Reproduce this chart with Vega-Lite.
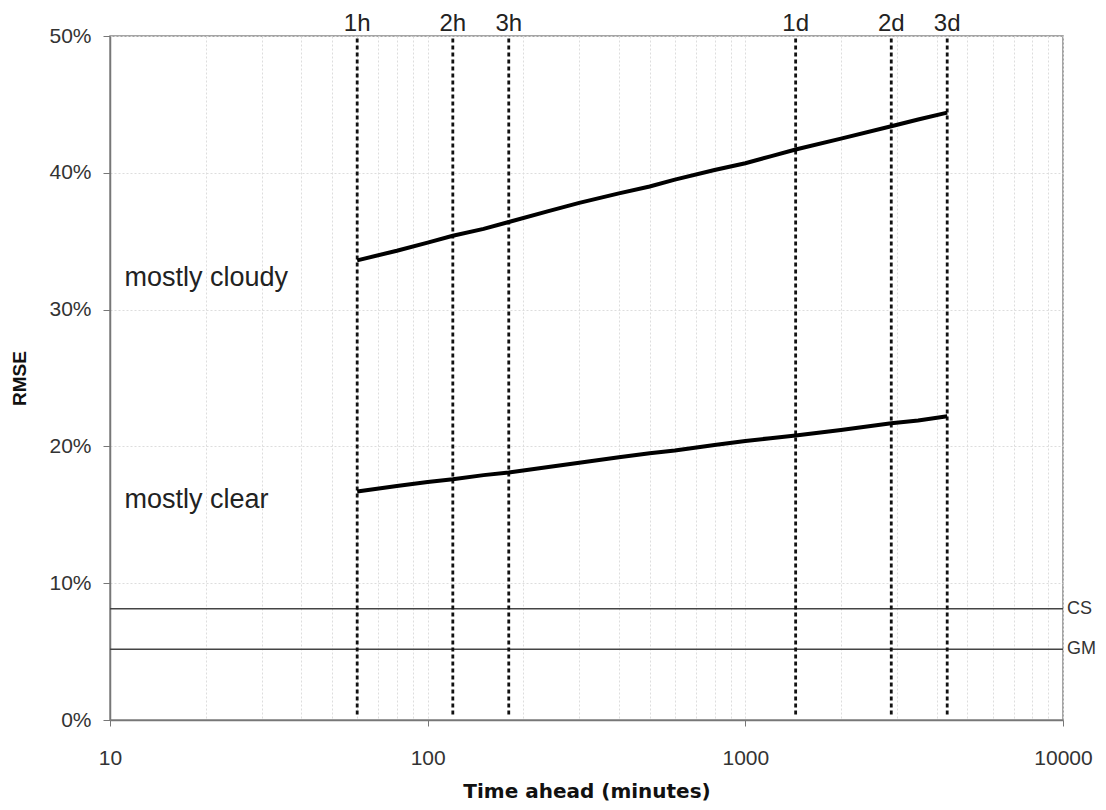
{
  "$schema": "https://vega.github.io/schema/vega-lite/v6.json",
  "autosize": "none",
  "width": 953,
  "height": 684,
  "padding": {"left": 110, "top": 36, "right": 43, "bottom": 90},
  "background": "white",
  "config": {
    "font": "Liberation Sans",
    "view": {"stroke": "#888888", "strokeWidth": 1.5}
  },
  "datasets": {
    "series": [
      {"minutes": 60, "rmse": 0.336, "series": "mostly cloudy"},
      {"minutes": 80, "rmse": 0.343, "series": "mostly cloudy"},
      {"minutes": 100, "rmse": 0.349, "series": "mostly cloudy"},
      {"minutes": 120, "rmse": 0.354, "series": "mostly cloudy"},
      {"minutes": 150, "rmse": 0.359, "series": "mostly cloudy"},
      {"minutes": 180, "rmse": 0.364, "series": "mostly cloudy"},
      {"minutes": 240, "rmse": 0.372, "series": "mostly cloudy"},
      {"minutes": 300, "rmse": 0.378, "series": "mostly cloudy"},
      {"minutes": 400, "rmse": 0.385, "series": "mostly cloudy"},
      {"minutes": 500, "rmse": 0.390, "series": "mostly cloudy"},
      {"minutes": 600, "rmse": 0.395, "series": "mostly cloudy"},
      {"minutes": 800, "rmse": 0.402, "series": "mostly cloudy"},
      {"minutes": 1000, "rmse": 0.407, "series": "mostly cloudy"},
      {"minutes": 1200, "rmse": 0.412, "series": "mostly cloudy"},
      {"minutes": 1440, "rmse": 0.417, "series": "mostly cloudy"},
      {"minutes": 2000, "rmse": 0.425, "series": "mostly cloudy"},
      {"minutes": 2880, "rmse": 0.434, "series": "mostly cloudy"},
      {"minutes": 3500, "rmse": 0.439, "series": "mostly cloudy"},
      {"minutes": 4320, "rmse": 0.444, "series": "mostly cloudy"},
      {"minutes": 60, "rmse": 0.167, "series": "mostly clear"},
      {"minutes": 80, "rmse": 0.171, "series": "mostly clear"},
      {"minutes": 100, "rmse": 0.174, "series": "mostly clear"},
      {"minutes": 120, "rmse": 0.176, "series": "mostly clear"},
      {"minutes": 150, "rmse": 0.179, "series": "mostly clear"},
      {"minutes": 180, "rmse": 0.181, "series": "mostly clear"},
      {"minutes": 240, "rmse": 0.185, "series": "mostly clear"},
      {"minutes": 300, "rmse": 0.188, "series": "mostly clear"},
      {"minutes": 400, "rmse": 0.192, "series": "mostly clear"},
      {"minutes": 500, "rmse": 0.195, "series": "mostly clear"},
      {"minutes": 600, "rmse": 0.197, "series": "mostly clear"},
      {"minutes": 800, "rmse": 0.201, "series": "mostly clear"},
      {"minutes": 1000, "rmse": 0.204, "series": "mostly clear"},
      {"minutes": 1200, "rmse": 0.206, "series": "mostly clear"},
      {"minutes": 1440, "rmse": 0.208, "series": "mostly clear"},
      {"minutes": 2000, "rmse": 0.212, "series": "mostly clear"},
      {"minutes": 2880, "rmse": 0.217, "series": "mostly clear"},
      {"minutes": 3500, "rmse": 0.219, "series": "mostly clear"},
      {"minutes": 4320, "rmse": 0.222, "series": "mostly clear"}
    ],
    "markers": [
      {"minutes": 60, "label": "1h", "lo": 0.004, "hi": 0.5},
      {"minutes": 120, "label": "2h", "lo": 0.004, "hi": 0.5},
      {"minutes": 180, "label": "3h", "lo": 0.004, "hi": 0.5},
      {"minutes": 1440, "label": "1d", "lo": 0.004, "hi": 0.5},
      {"minutes": 2880, "label": "2d", "lo": 0.004, "hi": 0.5},
      {"minutes": 4320, "label": "3d", "lo": 0.004, "hi": 0.5}
    ],
    "refs": [
      {"label": "CS", "rmse": 0.0814, "x0": 10, "x1": 10000},
      {"label": "GM", "rmse": 0.0517, "x0": 10, "x1": 10000}
    ],
    "seriesLabels": [
      {"label": "mostly cloudy", "minutes": 11.1, "rmse": 0.323},
      {"label": "mostly clear", "minutes": 11.1, "rmse": 0.161}
    ]
  },
  "layer": [
    {
      "data": {"name": "refs"},
      "mark": {"type": "rule", "color": "#444444", "strokeWidth": 1.5},
      "encoding": {
        "x": {
          "field": "x0", "type": "quantitative",
          "scale": {"type": "log", "domain": [10, 10000], "nice": false},
          "axis": {
            "values": [10, 20, 30, 40, 50, 60, 70, 80, 90, 100, 200, 300, 400, 500, 600, 700, 800, 900, 1000, 2000, 3000, 4000, 5000, 6000, 7000, 8000, 9000, 10000],
            "labelExpr": "indexof(['10','100','1000','10000'], datum.label) >= 0 ? datum.label : ''",
            "format": "d",
            "title": "Time ahead (minutes)",
            "titleFont": "DejaVu Sans",
            "titleFontSize": 20,
            "titleFontWeight": "bold",
            "titleColor": "#111111",
            "titlePadding": 13,
            "labelFontSize": 21,
            "labelColor": "#333333",
            "labelPadding": 21,
            "labelFlush": false,
            "labelOverlap": false,
            "grid": true,
            "gridColor": "#dddddd",
            "gridDash": [2, 2],
            "gridWidth": 1,
            "domainColor": "#777777",
            "domainWidth": 1.5,
            "tickColor": "#777777",
            "tickSize": 6,
            "tickOpacity": {"condition": {"test": "indexof([10,100,1000,10000], datum.value) >= 0", "value": 1}, "value": 0}
          }
        },
        "x2": {"field": "x1"},
        "y": {
          "field": "rmse", "type": "quantitative",
          "scale": {"domain": [0, 0.5], "nice": false},
          "axis": {
            "values": [0, 0.1, 0.2, 0.3, 0.4, 0.5],
            "format": ".0%",
            "title": "RMSE",
            "titleFontSize": 19,
            "titleFontWeight": "bold",
            "titleColor": "#111111",
            "titlePadding": 19,
            "labelFontSize": 21,
            "labelColor": "#333333",
            "labelPadding": 12,
            "grid": true,
            "gridColor": "#dddddd",
            "gridDash": [2, 2],
            "domainColor": "#777777",
            "domainWidth": 1.5,
            "tickColor": "#777777",
            "tickSize": 7
          }
        }
      }
    },
    {
      "data": {"name": "refs"},
      "mark": {"type": "text", "align": "left", "baseline": "middle", "dx": 4, "fontSize": 18, "color": "#333333"},
      "encoding": {
        "x": {"field": "x1", "type": "quantitative"},
        "y": {"field": "rmse", "type": "quantitative"},
        "text": {"field": "label"}
      }
    },
    {
      "data": {"name": "markers"},
      "mark": {"type": "rule", "color": "#111111", "strokeWidth": 2.8, "strokeDash": [4, 3]},
      "encoding": {
        "x": {"field": "minutes", "type": "quantitative"},
        "y": {"field": "lo", "type": "quantitative"},
        "y2": {"field": "hi"}
      }
    },
    {
      "data": {"name": "markers"},
      "mark": {"type": "text", "align": "center", "baseline": "alphabetic", "dy": -5, "fontSize": 24, "color": "#222222"},
      "encoding": {
        "x": {"field": "minutes", "type": "quantitative"},
        "y": {"field": "hi", "type": "quantitative"},
        "text": {"field": "label"}
      }
    },
    {
      "data": {"name": "series"},
      "mark": {"type": "line", "color": "#000000", "strokeWidth": 4},
      "encoding": {
        "x": {"field": "minutes", "type": "quantitative"},
        "y": {"field": "rmse", "type": "quantitative"},
        "detail": {"field": "series"}
      }
    },
    {
      "data": {"name": "seriesLabels"},
      "mark": {"type": "text", "align": "left", "baseline": "middle", "fontSize": 27, "color": "#222222"},
      "encoding": {
        "x": {"field": "minutes", "type": "quantitative"},
        "y": {"field": "rmse", "type": "quantitative"},
        "text": {"field": "label"}
      }
    }
  ]
}
